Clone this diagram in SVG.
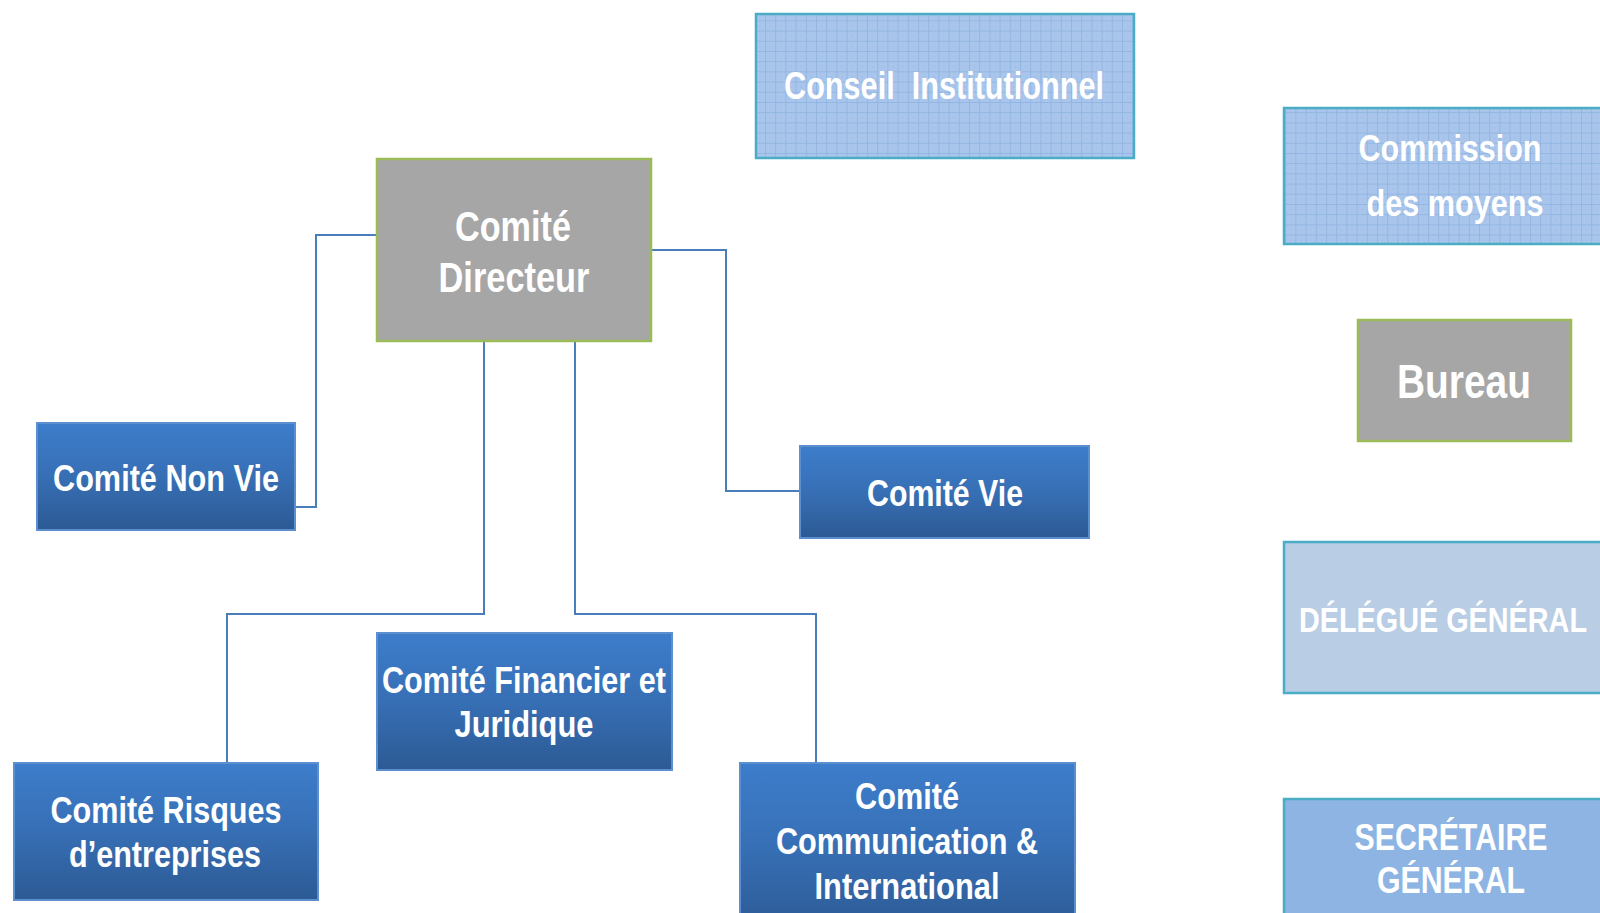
<svg xmlns="http://www.w3.org/2000/svg" width="1600" height="913" viewBox="0 0 1600 913">
<style>
.t{font-family:"Liberation Sans Narrow","Arial Narrow","Liberation Sans",Arial,sans-serif;font-weight:bold;fill:#ffffff;text-anchor:middle}
.blue{fill:url(#gBlue);stroke:#5B8FD0;stroke-width:2}
.grey{fill:#A6A6A6;stroke:#9BBB59;stroke-width:2.5}
.grid{fill:url(#pGrid);stroke:#4BACC6;stroke-width:2.5}
.conn{fill:none;stroke:#4A7EBB;stroke-width:2}
</style>
<defs>
<linearGradient id="gBlue" x1="0" y1="0" x2="0" y2="1">
<stop offset="0" stop-color="#3D7DCB"/>
<stop offset="0.5" stop-color="#376FB5"/>
<stop offset="1" stop-color="#2C5A94"/>
</linearGradient>
<pattern id="pGrid" patternUnits="userSpaceOnUse" width="10.2" height="10.2">
<rect width="10.2" height="10.2" fill="#A9C5EB"/>
<path d="M0,0.5H10.2M0.5,0V10.2" stroke="#92B6E2" stroke-width="1" fill="none"/>
<rect x="5" y="5" width="1.2" height="1.2" fill="#9ABBE4"/>
</pattern>
</defs>
<rect width="1600" height="913" fill="#ffffff"/>

<g id="connectors">
<path class="conn" d="M377,235 H316 V507 H295"/>
<path class="conn" d="M651,250 H726 V491 H800"/>
<path class="conn" d="M484,341 V614 H227 V763"/>
<path class="conn" d="M575,341 V614 H816 V763"/>
</g>

<g id="conseil-institutionnel">
<rect class="grid" x="756" y="14" width="378" height="144"/>
<text class="t" x="944" y="99" font-size="38" textLength="320" lengthAdjust="spacingAndGlyphs" xml:space="preserve" style="white-space:pre">Conseil  Institutionnel</text>
</g>

<g id="commission-des-moyens">
<rect class="grid" x="1284" y="108" width="330" height="136"/>
<text class="t" x="1450" y="161" font-size="37" textLength="183" lengthAdjust="spacingAndGlyphs">Commission</text>
<text class="t" x="1455" y="216" font-size="37" textLength="177" lengthAdjust="spacingAndGlyphs">des moyens</text>
</g>

<g id="bureau">
<rect class="grey" x="1358" y="320" width="213" height="121"/>
<text class="t" x="1464" y="398" font-size="48" textLength="134" lengthAdjust="spacingAndGlyphs">Bureau</text>
</g>

<g id="delegue-general">
<rect x="1284" y="542" width="330" height="151" fill="#B9CDE5" stroke="#4BACC6" stroke-width="2.5"/>
<text class="t" x="1443" y="632" font-size="35" textLength="288" lengthAdjust="spacingAndGlyphs">DÉLÉGUÉ GÉNÉRAL</text>
</g>

<g id="secretaire-general">
<rect x="1284" y="799" width="330" height="130" fill="#8EB4E3" stroke="#4BACC6" stroke-width="2.5"/>
<text class="t" x="1451" y="850" font-size="37" textLength="193" lengthAdjust="spacingAndGlyphs">SECRÉTAIRE</text>
<text class="t" x="1451" y="893" font-size="37" textLength="148" lengthAdjust="spacingAndGlyphs">GÉNÉRAL</text>
</g>

<g id="comite-directeur">
<rect class="grey" x="377" y="159" width="274" height="182"/>
<text class="t" x="513" y="241" font-size="42" textLength="116" lengthAdjust="spacingAndGlyphs">Comité</text>
<text class="t" x="514" y="292" font-size="42" textLength="151" lengthAdjust="spacingAndGlyphs">Directeur</text>
</g>

<g id="comite-non-vie">
<rect class="blue" x="37" y="423" width="258" height="107"/>
<text class="t" x="166" y="491" font-size="37" textLength="226" lengthAdjust="spacingAndGlyphs">Comité Non Vie</text>
</g>

<g id="comite-vie">
<rect class="blue" x="800" y="446" width="289" height="92"/>
<text class="t" x="945" y="506" font-size="37" textLength="156" lengthAdjust="spacingAndGlyphs">Comité Vie</text>
</g>

<g id="comite-financier-juridique">
<rect class="blue" x="377" y="633" width="295" height="137"/>
<text class="t" x="524" y="693" font-size="37" textLength="284" lengthAdjust="spacingAndGlyphs">Comité Financier et</text>
<text class="t" x="524" y="737" font-size="37" textLength="139" lengthAdjust="spacingAndGlyphs">Juridique</text>
</g>

<g id="comite-risques">
<rect class="blue" x="14" y="763" width="304" height="137"/>
<text class="t" x="166" y="823" font-size="37" textLength="231" lengthAdjust="spacingAndGlyphs">Comité Risques</text>
<text class="t" x="165" y="867" font-size="37" textLength="192" lengthAdjust="spacingAndGlyphs">d’entreprises</text>
</g>

<g id="comite-communication">
<rect class="blue" x="740" y="763" width="335" height="170"/>
<text class="t" x="907" y="809" font-size="37" textLength="104" lengthAdjust="spacingAndGlyphs">Comité</text>
<text class="t" x="907" y="854" font-size="37" textLength="262" lengthAdjust="spacingAndGlyphs">Communication &amp;</text>
<text class="t" x="907" y="899" font-size="37" textLength="185" lengthAdjust="spacingAndGlyphs">International</text>
</g>
</svg>
